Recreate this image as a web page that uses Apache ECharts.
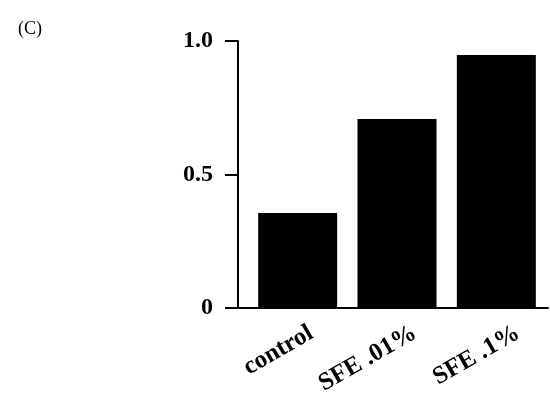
<!DOCTYPE html>
<html><head><meta charset="utf-8">
<script src="https://cdn.jsdelivr.net/npm/echarts@6/dist/echarts.min.js"></script>
<style>html,body{margin:0;padding:0;background:#fff}#c{width:550px;height:399px}</style>
</head><body><div id="c"></div>
<script>
const categories = ['control', 'SFE .01%', 'SFE .1%'];
const values = [0.356, 0.708, 0.948];
const yTicks = { min: 0, max: 1, interval: 0.5 };
const panelLabel = '(C)';

const chart = echarts.init(document.getElementById('c'), null, { renderer: 'canvas' });
const serif = '"Liberation Serif", "DejaVu Serif", serif';
chart.setOption({
  animation: false,
  backgroundColor: '#fff',
  title: { text: panelLabel, left: 13, top: 15, textStyle: { fontFamily: serif, fontWeight: 'normal', fontSize: 18, color: '#000' } },
  grid: [
    { left: 248, right: 4, top: 41, bottom: 91 },
    { left: 238, right: 2, top: 41, bottom: 91 }
  ],
  xAxis: [
    { type: 'category', gridIndex: 0, data: categories, axisLine: { show: false }, axisTick: { show: false }, axisLabel: { show: false } },
    { type: 'category', gridIndex: 1, data: categories,
      axisLine: { show: true, lineStyle: { color: '#000', width: 2 } },
      axisTick: { show: false },
      axisLabel: { rotate: 30, margin: 36, padding: [0, -25, 0, 0], fontFamily: serif, fontWeight: 'bold', fontSize: 25, color: '#000' } }
  ],
  yAxis: [
    { type: 'value', gridIndex: 0, min: yTicks.min, max: yTicks.max, interval: yTicks.interval, show: false, splitLine: { show: false } },
    { type: 'value', gridIndex: 1, min: yTicks.min, max: yTicks.max, interval: yTicks.interval,
      axisLine: { show: true, lineStyle: { color: '#000', width: 2 } },
      axisTick: { show: true, length: 13, lineStyle: { color: '#000', width: 2 } },
      splitLine: { show: false },
      axisLabel: { margin: 25, fontFamily: serif, fontWeight: 'bold', fontSize: 24, color: '#000',
        formatter: v => v === 0 ? '0' : v.toFixed(1) } }
  ],
  series: [{
    type: 'bar', xAxisIndex: 0, yAxisIndex: 0, data: values, barWidth: 79,
    itemStyle: { color: '#000' }
  }]
});
</script></body></html>
